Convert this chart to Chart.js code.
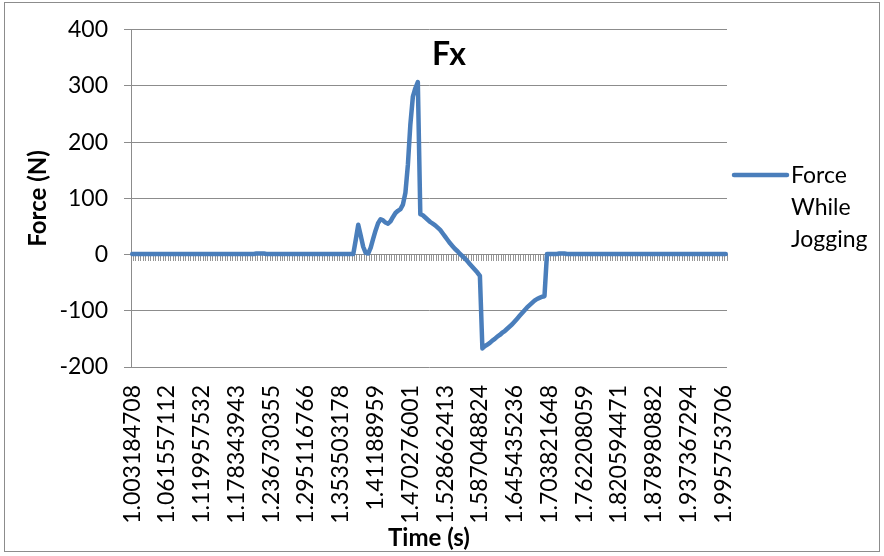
<!DOCTYPE html>
<html>
<head>
<meta charset="utf-8">
<script src="https://cdn.jsdelivr.net/npm/chart.js@4.4.1/dist/chart.umd.min.js"></script>
<style>
  html, body { margin: 0; padding: 0; background: #fff; }
  #wrap { width: 884px; height: 556px; position: relative; }
</style>
</head>
<body>
<div id="wrap"><canvas id="c" width="884" height="556"></canvas></div>
<script>
// ---- data ----
const chartTitle = 'Fx';
const seriesName = ['Force', 'While', 'Jogging'];
const xTitle = 'Time (s)';
const yTitle = 'Force (N)';

// time labels visible on the category axis (one every 14 samples)
const tickLabels = [
  '1.003184708', '1.061557112', '1.119957532', '1.178343943', '1.236730355',
  '1.295116766', '1.353503178', '1.41188959', '1.470276001', '1.528662413',
  '1.587048824', '1.645435236', '1.703821648', '1.762208059', '1.820594471',
  '1.878980882', '1.937367294', '1.995753706'
];
const labelEvery = 14;

// force samples (N), 240 samples
const forceValues = [
  1, 1, 1, 1, 1, 1, 1, 1, 1, 1,
  1, 1, 1, 1, 1, 1, 1, 1, 1, 1,
  1, 1, 1, 1, 1, 1, 1, 1, 1, 1,
  1, 1, 1, 1, 1, 1, 1, 1, 1, 1,
  1, 1, 1, 1, 1, 1, 1, 1, 1, 1,
  2, 2, 2, 2, 1, 1, 1, 1, 1, 1,
  1, 1, 1, 1, 1, 1, 1, 1, 1, 1,
  1, 1, 1, 1, 1, 1, 1, 1, 1, 1,
  1, 1, 1, 1, 1, 1, 1, 1, 1, 1,
  26, 53, 34, 14, 3, 2, 12, 28, 43, 56,
  63, 61, 57, 55, 59, 67, 74, 78, 81, 89,
  110, 160, 232, 281, 296, 307, 72,
  70, 66, 62, 58, 55, 52, 48, 44, 38, 32, 26, 20,
  15, 10, 6, 1, -3, -7, -12, -17, -22, -27, -32, -38,
  -167,
  -163, -160, -157, -153, -150, -146, -143, -139, -136, -132,
  -128, -124, -119, -114, -109, -104, -99, -94, -90, -86,
  -82, -79, -77, -75, -74,
  1, 1, 1, 1, 1, 2, 2, 2, 1, 1,
  1, 1, 1, 1, 1, 1, 1, 1, 1, 1,
  1, 1, 1, 1, 1, 1, 1, 1, 1, 1,
  1, 1, 1, 1, 1, 1, 1, 1, 1, 1,
  1, 1, 1, 1, 1, 1, 1, 1, 1, 1,
  1, 1, 1, 1, 1, 1, 1, 1, 1, 1,
  1, 1, 1, 1, 1, 1, 1, 1, 1, 1,
  1, 1, 1
];
const yMin = -200, yMax = 400, yStep = 100;

// ---- build category labels ----
const categories = forceValues.map((v, i) =>
  (i % labelEvery === 0 && tickLabels[i / labelEvery] !== undefined) ? tickLabels[i / labelEvery] : '');

const FONT = 'Lato, "Open Sans", sans-serif';
const LINE_COLOR = '#4A7EBB';
const GRID = '#8C8C8C';

const decorPlugin = {
  id: 'decor',
  beforeDraw(chart) {
    const ctx = chart.ctx;
    ctx.save();
    ctx.fillStyle = '#fff';
    ctx.fillRect(0, 0, chart.width, chart.height);
    ctx.strokeStyle = '#8C8C8C';
    ctx.lineWidth = 1;
    ctx.strokeRect(4.5, 2.5, 875, 549);
    ctx.restore();
  },
  afterDraw(chart) {
    const ctx = chart.ctx;
    const a = chart.chartArea;
    ctx.save();
    // title
    ctx.fillStyle = '#000';
    ctx.font = 'bold 32px ' + FONT;
    ctx.textAlign = 'center';
    ctx.textBaseline = 'alphabetic';
    ctx.fillText(chartTitle, 449, 65);
    // legend
    ctx.strokeStyle = LINE_COLOR;
    ctx.lineWidth = 4.5;
    ctx.lineCap = 'round';
    ctx.beginPath();
    ctx.moveTo(a.right + 7, 175);
    ctx.lineTo(a.right + 60, 175);
    ctx.stroke();
    ctx.font = '23px ' + FONT;
    ctx.textAlign = 'left';
    seriesName.forEach((t, k) => ctx.fillText(t, a.right + 64, 183 + k * 32));
    ctx.restore();
  }
};

new Chart(document.getElementById('c'), {
  type: 'line',
  data: {
    labels: categories,
    datasets: [{
      label: seriesName.join(' '),
      data: forceValues,
      borderColor: LINE_COLOR,
      backgroundColor: LINE_COLOR,
      borderWidth: 4.5,
      pointRadius: 0,
      tension: 0,
      fill: false,
      borderJoinStyle: 'round',
      borderCapStyle: 'round'
    }]
  },
  options: {
    responsive: false,
    animation: false,
    devicePixelRatio: 1,
    layout: { padding: { top: 26, right: 157, left: 0, bottom: 0 } },
    plugins: { legend: { display: false }, title: { display: false }, tooltip: { enabled: false } },
    scales: {
      x: {
        type: 'category',
        position: 'bottom',
        offset: true,
        grid: { display: false, drawTicks: false },
        border: { display: false },
        ticks: {
          autoSkip: false, minRotation: 90, maxRotation: 90, padding: 18,
          color: '#000', font: { family: FONT, size: 23 }
        },
        title: {
          display: true, text: xTitle, color: '#000',
          font: { family: FONT, size: 24, weight: 'bold' },
          padding: { top: 0, bottom: 3 }
        },
        afterFit: s => { s.height = 189; }
      },
      x0: {
        type: 'category',
        position: { y: 0 },
        offset: true,
        grid: { drawOnChartArea: false, drawTicks: true, tickLength: 6, color: '#969696', offset: true },
        border: { display: true, color: GRID },
        ticks: { display: false }
      },
      y: {
        min: yMin, max: yMax,
        ticks: { stepSize: yStep, padding: 16, color: '#000', font: { family: FONT, size: 23 } },
        grid: { color: GRID, drawTicks: true, tickLength: 7 },
        border: { color: GRID },
        title: {
          display: true, text: yTitle, color: '#000',
          font: { family: FONT, size: 24, weight: 'bold' },
          padding: { top: 24, bottom: 0 }
        },
        afterFit: s => { s.width = 131; }
      }
    }
  },
  plugins: [decorPlugin]
});
</script>
</body>
</html>
